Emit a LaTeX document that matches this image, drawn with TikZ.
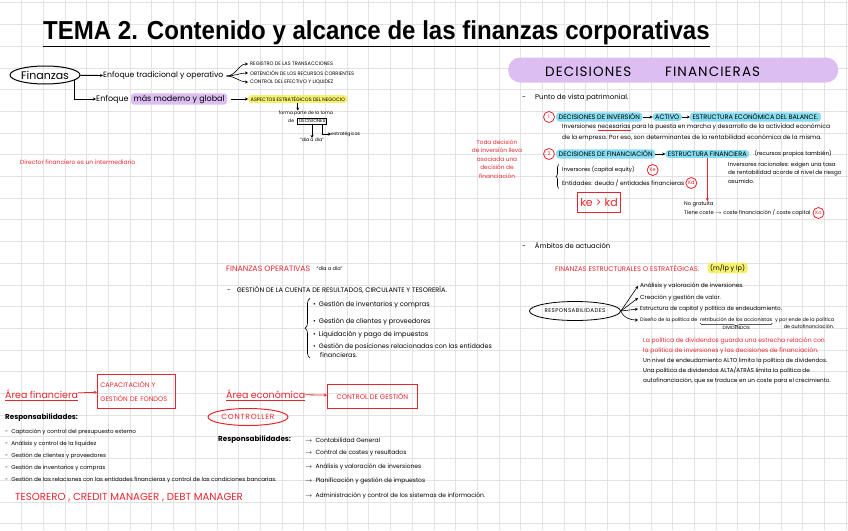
\documentclass[tikz,border=0pt]{standalone}
\usepackage{fontspec}
\setmainfont{Poppins}
\newfontfamily\fuentetitulo{Liberation Sans}
\usetikzlibrary{positioning,shapes.geometric,arrows.meta,decorations.pathreplacing}

\definecolor{rojo}{HTML}{E6262E}
\definecolor{lila}{HTML}{DCBEF2}
\definecolor{celeste}{HTML}{86DCF0}
\definecolor{amarillo}{HTML}{F5F16E}
\definecolor{cuadricula}{HTML}{E3E3E3}

\newcommand\letra[2]{\fontsize{#1}{#2}\selectfont}

\tikzset{
  nota/.style={inner sep=0pt, anchor=west, font=\letra{6}{7.5}},
  mini/.style={nota, font=\letra{5}{5.6}},
  roja/.style={nota, text=rojo},
  flecha/.style={-{Stealth[length=3pt,width=3pt]}, line width=0.6pt},
  resalte/.style={nota, fill=#1, rounded corners=3pt, inner xsep=2.5pt, inner ysep=1.5pt},
  bloque/.style={resalte=celeste, font=\letra{6.5}{7}},
  circulo/.style={circle, draw=rojo, line width=0.8pt, text=rojo, inner sep=0.5pt, minimum size=11pt, font=\letra{5}{5}},
  caja/.style={draw=rojo, line width=0.8pt, text=rojo, inner sep=3pt},
  llave/.style={decorate, decoration={brace, amplitude=#1}, line width=0.6pt}
}

\begin{document}
\begin{tikzpicture}[x=1pt, y=-1pt]
  % --- macro riutilizzabili ---------------------------------------------
  \def\punto#1#2#3{\node[nota, font=\letra{5.6}{6}] (#1) at (5,#2) {-\hspace{3pt}#3};}
  \def\tarea#1#2#3{\node[nota, font=\letra{6}{6}] (#1) at (305,#2) {$\rightarrow$\hspace{3pt}#3};}
  \useasboundingbox (0,0) rectangle (848,530);
  % --- cuadricula -------------------------------------------------------
  \foreach \i in {1,...,39} \draw[cuadricula, line width=0.9pt] (21.7*\i,0) -- ++(0,530);
  \foreach \j in {0,...,24} \draw[cuadricula, line width=0.9pt] (0,2.9+21.7*\j) -- ++(848,0);
  % --- titulo -----------------------------------------------------------
  \node[anchor=west, inner sep=0pt, font=\fuentetitulo\bfseries\letra{26}{26}, xscale=0.925] (tema) at (43,33) {TEMA 2. Contenido y alcance de las finanzas corporativas};
  \draw[line width=1.6pt] ([yshift=-1pt]tema.south west) -- ([yshift=-1pt]tema.south east);
  % --- finanzas ---------------------------------------------------------
  \node[ellipse, draw, line width=1pt, minimum width=70pt, minimum height=18pt, inner sep=0pt, font=\letra{11}{11}] (fin) at (45,75) {Finanzas};
  \node[nota, font=\letra{7.7}{8}] (trad) at (103,76) {Enfoque tradicional y operativo};
  \draw[flecha, line width=0.9pt] (fin) -- (trad);
  \node[mini] (reg) at (250,64) {REGISTRO DE LAS TRANSACCIONES};
  \node[mini] (obt) at (250,73) {OBTENCIÓN DE LOS RECURSOS CORRIENTES};
  \node[mini] (con) at (250,82) {CONTROL DEL EFECTIVO Y LIQUIDEZ};
  \foreach \dest in {reg,obt,con}
    \draw[flecha] ([xshift=3pt]trad.east) to[out=0,in=180] ([xshift=-2pt]\dest.west);
  \node[nota, font=\letra{8}{8}] (mod) at (96,99) {Enfoque};
  \node[resalte=lila, font=\letra{8}{8}, right=2pt of mod] (glob) {más moderno y global};
  \draw[flecha, line width=0.9pt] (fin.-10) |- (mod);
  \node[resalte=amarillo, font=\letra{4.9}{5}] (asp) at (248,99) {ASPECTOS ESTRATÉGICOS DEL NEGOCIO};
  \draw[flecha] ([xshift=4pt]glob.east) -- (asp);
  \node[mini, anchor=center, font=\letra{4.6}{5}] (toma) at (306,113) {forma parte de la toma};
  \draw[flecha] (asp.south) -- (asp.south |- toma.north);
  \node[mini, font=\letra{4.6}{5}] (de) at (288,121) {de};
  \node[mini, font=\letra{4.6}{5}, draw, line width=0.6pt, inner sep=1.5pt, right=3pt of de] (dec) {DECISIONES};
  \node[mini, font=\letra{4.6}{5}, anchor=center] (dia) at (312,140) {“día a día”};
  \node[mini, font=\letra{4.6}{5}] (estr) at (331,134) {estratégicas};
  \draw[flecha] (dec.south -| dia.north) -- (dia.north);
  \draw[flecha] ([xshift=-5pt]dec.south east) |- (estr.west);
  \node[roja, font=\letra{6}{6}] (dir) at (20,162) {Director financiero es un intermediario};
  % --- decisiones financieras -------------------------------------------
  \node[fill=lila, rounded corners=12pt, minimum width=330pt, minimum height=25pt, anchor=west, inner sep=0pt] (banda) at (508,70) {};
  \node[font=\letra{13.5}{13.5}\addfontfeatures{LetterSpace=8}, inner sep=0pt, anchor=west] (decis) at (545,72) {DECISIONES};
  \node[font=\letra{13.5}{13.5}\addfontfeatures{LetterSpace=8}, inner sep=0pt, anchor=west] (finan) at (665,72) {FINANCIERAS};
  \node[nota, font=\letra{7}{7}] (pv) at (522,98) {-\hspace{9pt}Punto de vista patrimonial.};
  % (1)
  \node[circulo] (uno) at (549,117) {1};
  \node[bloque] (inv) at (556,117) {DECISIONES DE INVERSIÓN};
  \node[bloque, right=10pt of inv] (act) {ACTIVO};
  \node[bloque, right=8pt of act] (eco) {ESTRUCTURA ECONÓMICA DEL BALANCE.};
  \draw[flecha] (inv) -- (act);
  \draw[flecha] (act) -- (eco);
  \node[nota] (inv1) at (562,127) {Inversiones {\color{rojo}\underline{\textcolor{black}{necesarias}}} para la puesta en marcha y desarrollo de la actividad económica};
  \node[nota] (inv2) at (562,138) {de la empresa. Por eso, son determinantes de la rentabilidad económica de la misma.};
  % (2)
  \node[circulo] (dos) at (549,154) {2};
  \node[bloque] (fnc) at (556,154) {DECISIONES DE FINANCIACIÓN};
  \node[bloque, right=10pt of fnc] (estf) {ESTRUCTURA FINANCIERA\hspace{6pt}};
  \draw[flecha] (fnc) -- (estf);
  \node[nota, font=\letra{5.6}{6}, right=5pt of estf] (rp) {(recursos propios también)};
  \node[nota, font=\letra{5.5}{6}] (ivr) at (562,170) {Inversores (capital equity)};
  \node[circulo, right=12pt of ivr] (ke) {Ke};
  \node[nota, font=\letra{5.9}{6}] (ent) at (562,183) {Entidades: deuda / entidades financieras};
  \node[circulo, right=1pt of ent] (kd) {Kd};
  \draw[llave=3pt] ([xshift=-3pt,yshift=-2pt]ent.south west) -- ([xshift=-3pt,yshift=2pt]ivr.north west);
  \node[caja, font=\letra{11}{11}, minimum width=42pt, minimum height=20pt] (kekd) at (599,202) {ke > kd};
  \node[mini, align=left, anchor=north west, font=\letra{5.6}{8.5}] (rac) at (728,162) {Inversores racionales: exigen una tasa\\de rentabilidad acorde al nivel de riesgo\\asumido.};
  \node[nota, font=\letra{5.2}{5}] (nog) at (684,204) {No gratuita};
  \node[nota, font=\letra{5.2}{5}] (coste) at (684,213) {Tiene coste $\rightarrow$ coste financiación / coste capital};
  \node[circulo, right=2pt of coste] (ko) {Ko};
  \draw[flecha, rojo, line width=0.8pt] (estf.south) -- (estf.south |- nog.north);
  \node[roja, anchor=center, align=center, font=\letra{5.8}{8.6}] (toda) at (497,159) {Toda decisión\\de inversión lleva\\asociada una\\decisión de\\financiación};
  % --- ambitos de actuacion ---------------------------------------------
  \node[nota, font=\letra{6.8}{7}] (amb) at (522,245) {-\hspace{9pt}Ámbitos de actuación};
  \node[roja, font=\letra{6.8}{7}] (fe) at (555,268) {FINANZAS ESTRUCTURALES O ESTRATÉGICAS.};
  \node[resalte=amarillo, font=\letra{6.5}{7}, right=8pt of fe] (mlp) {(m/lp y lp)};
  \node[ellipse, draw, line width=0.8pt, minimum width=91pt, minimum height=19pt, inner sep=0pt, font=\letra{5.5}{6}\addfontfeatures{LetterSpace=8}] (resp) at (575,311) {RESPONSABILIDADES};
  \node[nota, font=\letra{5.8}{6}] (r1) at (640,286) {Análisis y valoración de inversiones.};
  \node[nota, font=\letra{5.8}{6}] (r2) at (640,298) {Creación y gestión de valor.};
  \node[nota, font=\letra{5.6}{6}] (r3) at (640,309) {Estructura de capital y política de endeudamiento.};
  \node[nota, font=\letra{4.9}{6}] (r4) at (640,320) {Diseño de la política de};
  \node[nota, font=\letra{4.9}{6}, right=2.5pt of r4] (ret) {retribución de los accionistas};
  \node[nota, font=\letra{4.9}{6}, right=2.5pt of ret] (r4b) {y por ende de la política};
  \node[nota, font=\letra{4.9}{6}, anchor=north east] (r4c) at ([yshift=-2pt]r4b.south east) {de autofinanciación.};
  \draw[decorate, decoration={brace, mirror, amplitude=3pt}, line width=0.5pt] ([yshift=-1pt]ret.south west) -- ([yshift=-1pt]ret.south east);
  \node[mini, font=\letra{4.6}{5}, below=4pt of ret] (divi) {DIVIDENDOS};
  \foreach \dest in {r1,r2,r3}
    \draw[flecha] (resp.east) -- ([xshift=-2pt]\dest.west);
  \draw[flecha] (resp.east) to[out=-70,in=180] ([xshift=-2pt]r4.west);
  \node[roja, anchor=north west, align=left, font=\letra{6.1}{10}] (pol) at (643,337) {La política de dividendos guarda una estrecha relación con\\la política de inversiones y las decisiones de financiación.};
  \node[nota, anchor=north west, align=left, font=\letra{5.7}{10}] (niv) at (643,358) {Un nivel de endeudamiento ALTO limita la política de dividendos.\\Una política de dividendos ALTA/ATRÁS limita la política de\\autofinanciación, que se traduce en un coste para el crecimiento.};
  % --- finanzas operativas ----------------------------------------------
  \node[roja, font=\letra{7.8}{8}] (fo) at (226,269) {FINANZAS OPERATIVAS};
  \node[mini, right=6pt of fo] (dd) {“día a día”};
  \node[nota, font=\letra{6.6}{7}] (gc) at (227,290) {-\hspace{6pt}GESTIÓN DE LA CUENTA DE RESULTADOS, CIRCULANTE Y TESORERÍA.};
  \node[nota, font=\letra{6.6}{7}] (g1) at (313,305) {\textbullet\hspace{3pt}Gestión de inventarios y compras};
  \node[nota, font=\letra{6.6}{7}] (g2) at (313,322) {\textbullet\hspace{3pt}Gestión de clientes y proveedores};
  \node[nota, font=\letra{6.6}{7}] (g3) at (313,335) {\textbullet\hspace{3pt}Liquidación y pago de impuestos};
  \node[nota, anchor=north west, align=left, font=\letra{6.4}{9.5}] (g4) at (313,343) {\textbullet\hspace{3pt}Gestión de posiciones relacionadas con las entidades\\\hspace{7pt}financieras.};
  \draw[llave=5pt] ([xshift=-3pt]g4.south west) -- ([xshift=-3pt,yshift=3pt]g1.north west);
  % --- area financiera --------------------------------------------------
  \node[roja, font=\letra{9.5}{9}] (afin) at (5,394) {Área financiera};
  \draw[rojo, line width=0.8pt] ([yshift=-1.5pt]afin.south west) -- ([yshift=-1.5pt]afin.south east);
  \node[caja, anchor=west, align=left, font=\letra{6.6}{14}, text width=72pt, minimum height=34pt] (capt) at (97,391) {CAPACITACIÓN Y\\GESTIÓN DE FONDOS};
  \draw[flecha, rojo, line width=0.8pt] (afin) -- (capt);
  \node[nota, font=\bfseries\letra{7.2}{7}] (resp1) at (5,418) {Responsabilidades:};
  \punto{l1}{432}{Captación y control del presupuesto externo}
  \punto{l2}{444}{Análisis y control de la liquidez}
  \punto{l3}{456}{Gestión de clientes y proveedores}
  \punto{l4}{468}{Gestión de inventarios y compras}
  \punto{l5}{480}{Gestión de las relaciones con las entidades financieras y control de las condiciones bancarias.}
  \node[roja, font=\letra{10.2}{10}] (tes) at (15,498) {TESORERO , CREDIT MANAGER , DEBT MANAGER};
  % --- area economica ---------------------------------------------------
  \node[roja, font=\letra{9.5}{9}] (aeco) at (226,394) {Área económica};
  \draw[rojo, line width=0.8pt] ([yshift=-1.5pt]aeco.south west) -- ([yshift=-1.5pt]aeco.south east);
  \node[caja, anchor=west, font=\letra{6.8}{7}, minimum width=90pt, minimum height=24pt] (cg) at (327,396) {CONTROL DE GESTIÓN};
  \draw[flecha, rojo, line width=0.8pt] (aeco) -- (cg);
  \node[ellipse, draw=rojo, text=rojo, line width=1pt, minimum width=80pt, minimum height=17pt, inner sep=0pt, font=\letra{7.5}{8}\addfontfeatures{LetterSpace=10}] (ctr) at (248,417) {CONTROLLER};
  \node[nota, font=\bfseries\letra{7.2}{7}] (resp2) at (218,440) {Responsabilidades:};
  \tarea{t1}{440}{Contabilidad General}
  \tarea{t2}{453}{Control de costes y resultados}
  \tarea{t3}{467}{Análisis y valoración de inversiones}
  \tarea{t4}{481}{Planificación y gestión de impuestos}
  \tarea{t5}{496}{Administración y control de los sistemas de información.}
\end{tikzpicture}
\end{document}
